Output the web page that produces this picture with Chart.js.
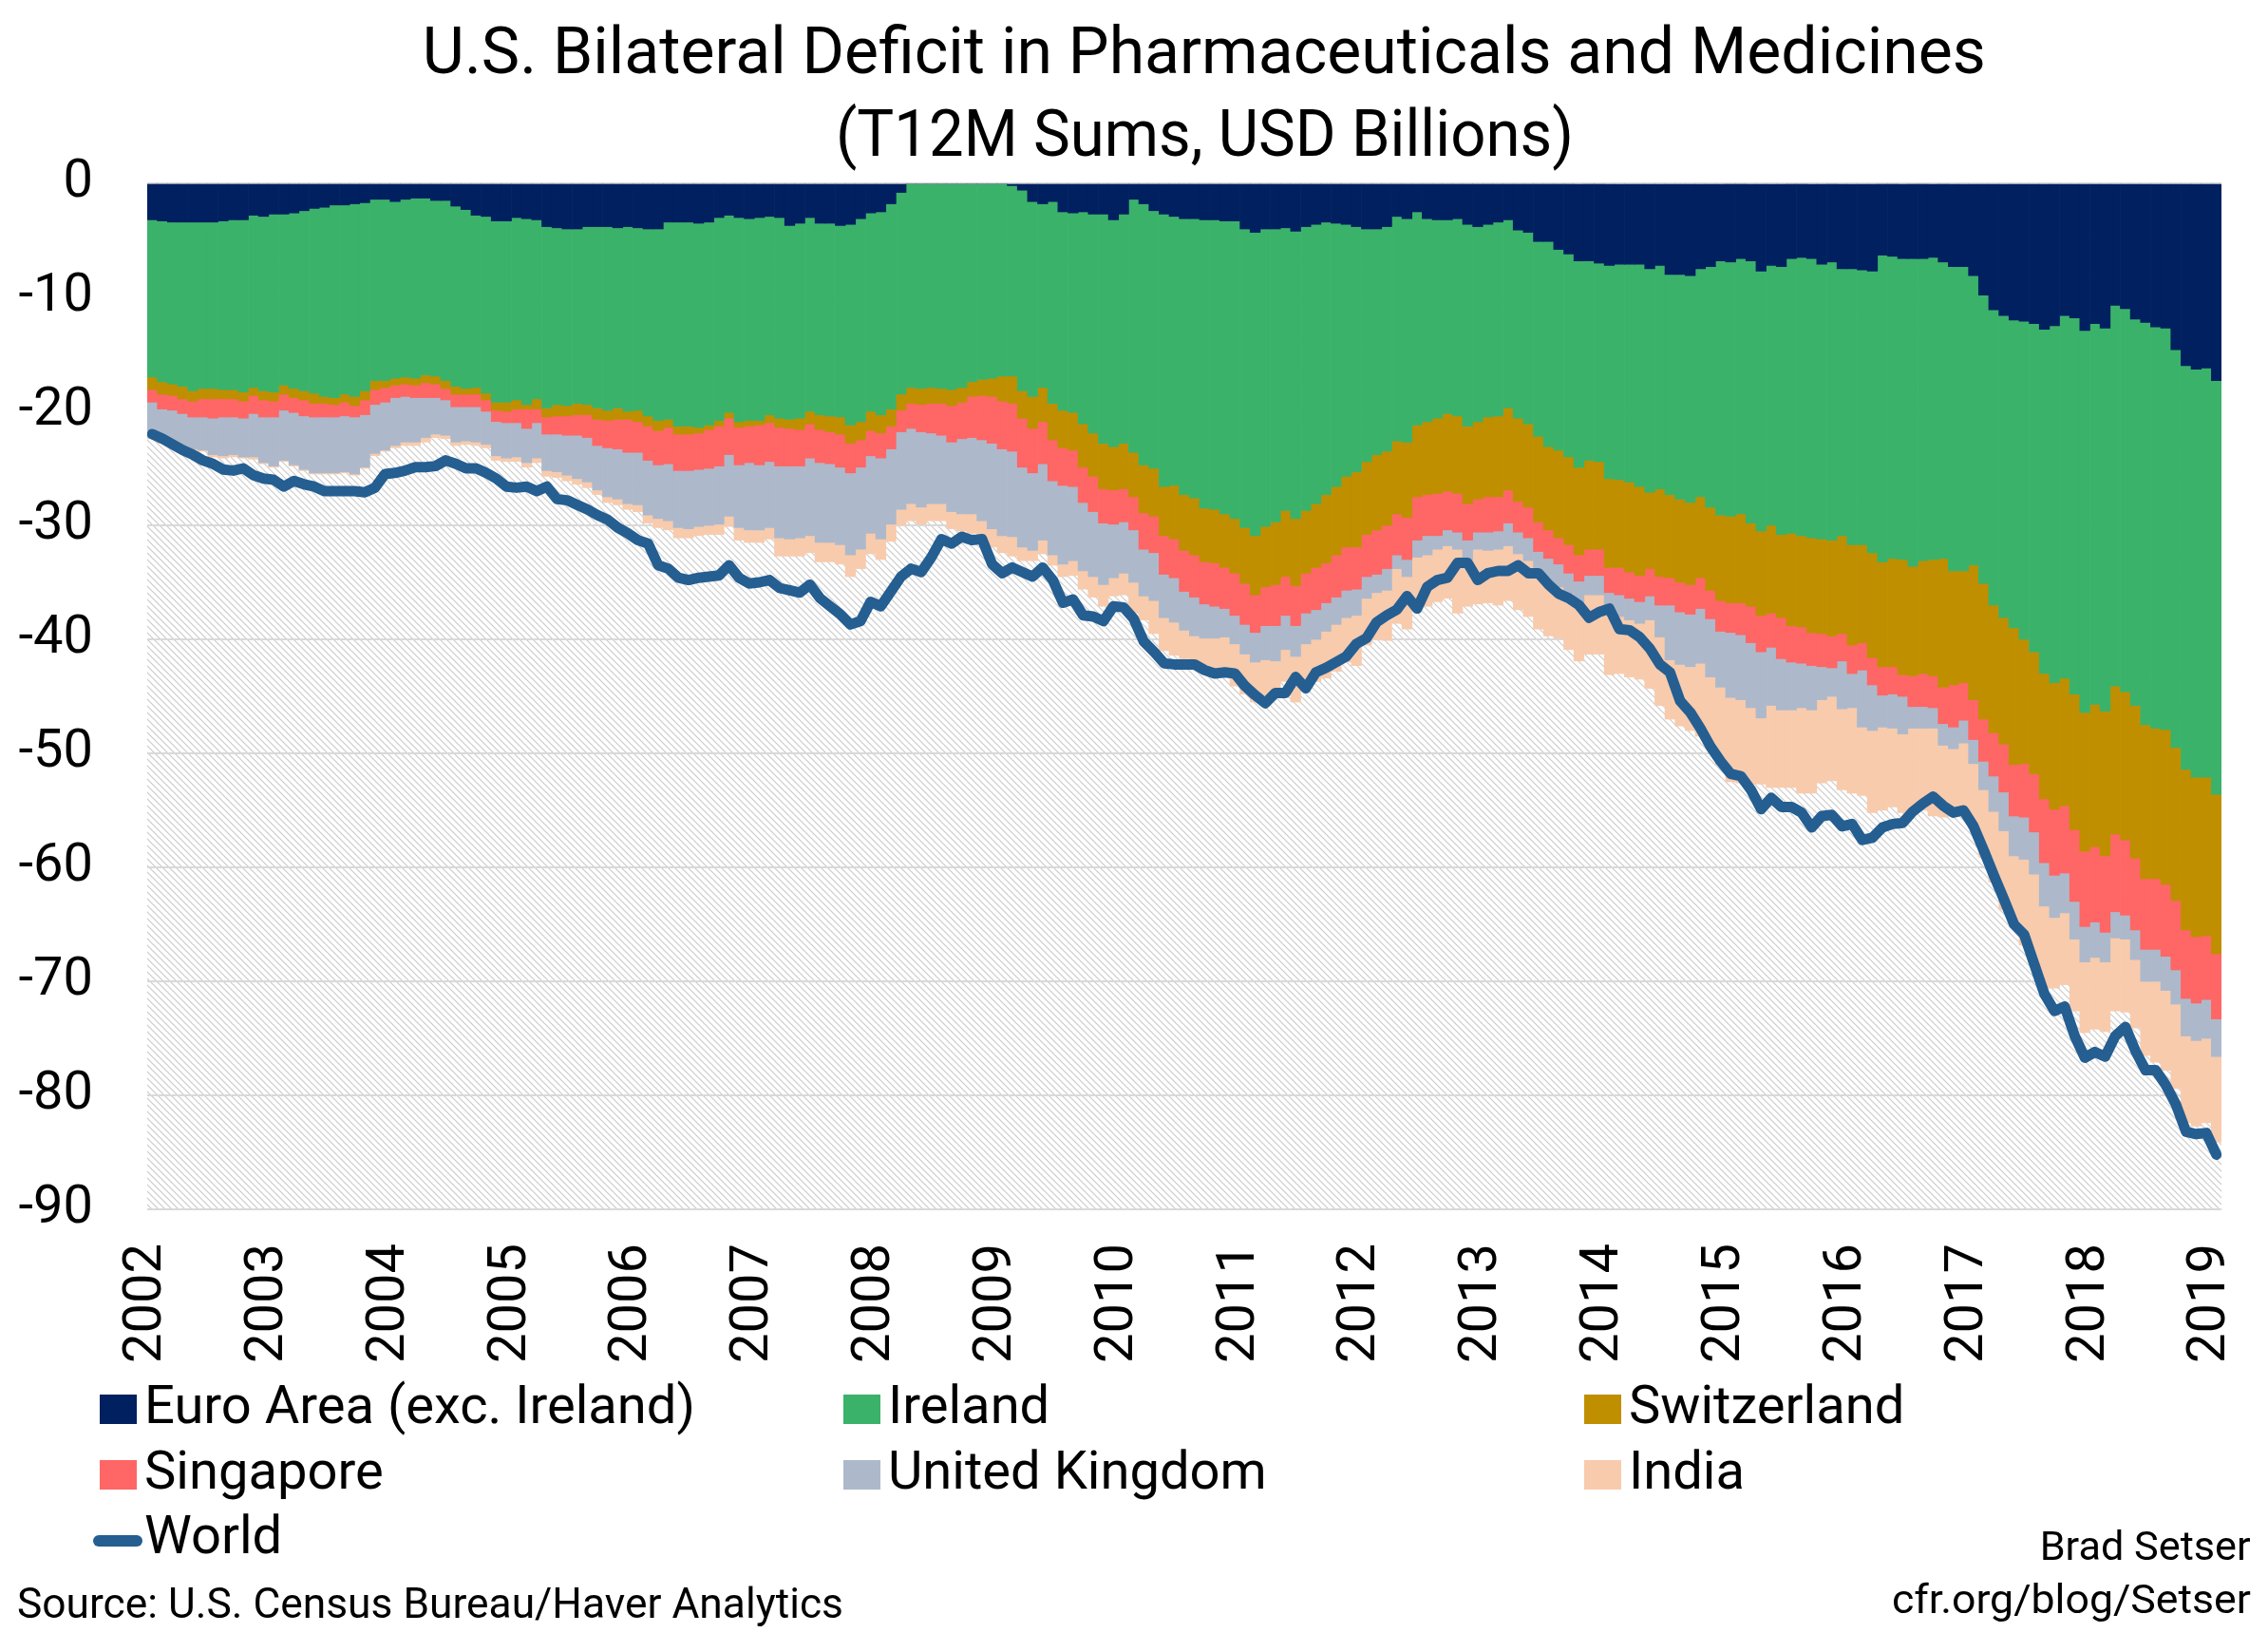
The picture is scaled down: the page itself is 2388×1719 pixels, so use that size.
<!DOCTYPE html>
<html>
<head>
<meta charset="utf-8">
<script src="https://cdn.jsdelivr.net/npm/chart.js@4.4.1/dist/chart.umd.min.js"></script>
<style>
html,body{margin:0;padding:0;background:#fff;}
#wrap{position:relative;width:2388px;height:1719px;overflow:hidden;font-family:Roboto,"Liberation Sans",sans-serif;color:#000;background:#fff;}
#chartBox{position:absolute;left:0;top:0;width:2388px;height:1719px;}
.t{position:absolute;white-space:nowrap;line-height:1;font-family:Roboto,"Liberation Sans",sans-serif;}
.box{position:absolute;width:39px;height:31px;}
.lmark{position:absolute;width:52px;height:12px;border-radius:6px;}
</style>
</head>
<body>
<div id="wrap">
  <div id="chartBox"><canvas id="c"></canvas></div>
  <div id="title1" class="t">U.S. Bilateral Deficit in Pharmaceuticals and Medicines</div>
  <div id="title2" class="t">(T12M Sums, USD Billions)</div>
  <div id="legend"></div>
  <div id="source" class="t">Source: U.S. Census Bureau/Haver Analytics</div>
  <div id="credit1" class="t">Brad Setser</div>
  <div id="credit2" class="t">cfr.org/blog/Setser</div>
</div>
<script>
// ---- Data: monthly trailing-12-month sums, USD billions, Jan 2002 .. Jan 2019 ----
const years = ['2002','2003','2004','2005','2006','2007','2008','2009','2010','2011','2012','2013','2014','2015','2016','2017','2018','2019'];
const yTicks = [0,-10,-20,-30,-40,-50,-60,-70,-80,-90];

const euroArea = [
-3.2,-3.3,-3.4,-3.4,-3.4,-3.4,-3.4,-3.3,-3.2,-3.2,
-2.8,-2.9,-2.7,-2.7,-2.6,-2.4,-2.2,-2.1,-1.9,-1.9,
-1.8,-1.7,-1.4,-1.4,-1.6,-1.4,-1.3,-1.3,-1.5,-1.5,
-2.0,-2.3,-2.8,-2.9,-3.3,-3.3,-3.0,-3.1,-3.2,-3.8,
-3.9,-4.0,-4.0,-3.8,-3.8,-3.8,-3.9,-3.8,-3.9,-4.0,
-4.0,-3.4,-3.4,-3.4,-3.5,-3.4,-3.0,-2.8,-3.0,-3.1,
-3.0,-2.9,-3.0,-3.7,-3.5,-3.0,-3.5,-3.5,-3.7,-3.6,
-3.1,-2.6,-2.5,-1.8,-0.8,0,0,0,0,0,
0,0,0,0,0,-0.2,-0.6,-1.6,-1.8,-1.6,
-2.5,-2.6,-2.5,-2.7,-2.7,-3.2,-2.7,-1.4,-1.8,-2.4,
-2.7,-2.9,-3.1,-3.1,-3.2,-3.2,-3.3,-3.3,-4.0,-4.3,
-4.0,-4.0,-3.9,-4.2,-3.8,-3.6,-3.4,-3.5,-3.6,-3.8,
-4.0,-4.0,-3.8,-2.9,-3.1,-2.5,-3.1,-3.2,-3.2,-3.1,
-3.6,-3.8,-3.6,-3.4,-3.2,-4.1,-4.3,-5.1,-5.1,-5.8,
-6.2,-6.8,-6.8,-7.0,-7.2,-7.1,-7.1,-7.1,-7.5,-7.2,
-8.0,-8.0,-8.1,-7.5,-7.3,-6.8,-6.9,-6.6,-6.8,-7.7,
-7.2,-7.3,-6.6,-6.5,-6.6,-7.1,-6.9,-7.5,-7.5,-7.6,
-7.7,-6.3,-6.4,-6.6,-6.6,-6.6,-6.5,-6.9,-7.3,-7.3,
-8.1,-9.8,-11.1,-11.6,-12.0,-12.1,-12.3,-12.8,-12.5,-11.6,
-11.8,-12.9,-12.3,-12.7,-10.7,-11.0,-11.9,-12.2,-12.6,-12.7,
-14.6,-16.0,-16.3,-16.2,-17.3];

const ireland = [
-13.8,-14.1,-14.2,-14.4,-14.8,-14.6,-14.6,-14.8,-14.9,-15.1,
-15.1,-15.3,-15.6,-15.0,-15.4,-15.8,-16.2,-16.6,-16.9,-16.6,
-16.9,-16.5,-15.9,-15.9,-15.5,-15.6,-15.8,-15.5,-15.4,-15.8,
-15.8,-15.7,-15.1,-15.5,-15.9,-15.9,-16.0,-16.3,-15.7,-15.9,
-15.5,-15.5,-15.3,-15.6,-15.9,-16.1,-15.8,-16.2,-16.0,-16.4,
-16.8,-17.3,-17.9,-17.9,-17.9,-17.8,-17.8,-17.3,-17.9,-17.7,
-17.8,-17.4,-17.6,-17.0,-17.1,-17.0,-16.8,-16.9,-16.8,-17.6,
-17.8,-17.4,-17.8,-18.0,-17.7,-17.9,-18.0,-17.9,-18.0,-18.1,
-17.9,-17.4,-17.2,-17.1,-16.9,-16.7,-17.6,-17.1,-16.1,-17.7,
-17.4,-17.5,-18.6,-19.2,-20.1,-19.9,-20.1,-22.2,-22.9,-22.6,
-23.9,-23.6,-24.2,-24.5,-25.3,-25.4,-25.7,-26.1,-26.2,-26.6,
-26.1,-25.7,-24.8,-25.2,-24.9,-24.5,-23.9,-23.1,-22.1,-21.5,
-20.4,-19.8,-19.7,-19.7,-19.6,-18.7,-17.8,-17.4,-17.0,-17.3,
-17.7,-17.1,-16.9,-17.0,-16.5,-16.5,-16.8,-17.1,-18.0,-17.6,
-17.8,-18.1,-17.5,-17.4,-18.7,-18.9,-19.1,-19.5,-19.6,-19.6,
-19.3,-19.7,-19.9,-20.0,-21.1,-22.3,-22.3,-22.4,-23.0,-22.8,
-22.8,-23.5,-24.1,-24.4,-24.5,-24.1,-24.4,-23.4,-24.2,-24.1,
-24.7,-26.9,-26.5,-26.4,-27.0,-26.5,-26.5,-26.0,-26.7,-26.7,
-25.4,-25.3,-25.9,-26.5,-27.0,-27.9,-28.8,-30.2,-31.3,-31.8,
-33.0,-33.5,-33.4,-33.6,-33.4,-33.6,-33.9,-35.3,-35.2,-35.2,
-34.9,-35.4,-35.8,-35.9,-36.3];

const switzerland = [
-1.1,-1.1,-1.0,-1.1,-0.9,-0.9,-0.9,-0.8,-0.8,-0.8,
-0.7,-0.8,-0.8,-0.8,-0.8,-0.8,-0.9,-0.6,-0.6,-0.7,
-0.8,-0.8,-0.8,-0.6,-0.6,-0.6,-0.6,-0.7,-0.7,-0.7,
-0.7,-0.5,-0.6,-0.6,-0.7,-0.8,-0.8,-0.4,-0.9,-0.8,
-1.0,-0.9,-1.0,-0.9,-1.0,-0.9,-1.0,-0.7,-1.0,-0.9,
-0.9,-0.7,-0.7,-0.7,-0.5,-0.4,-0.5,-0.5,-0.5,-0.5,
-0.4,-0.7,-0.8,-0.8,-1.0,-1.1,-1.3,-1.4,-1.5,-1.6,
-1.6,-1.7,-1.6,-1.5,-1.4,-1.4,-1.4,-1.4,-1.3,-1.4,
-1.3,-1.3,-1.4,-1.6,-2.2,-2.4,-2.4,-2.8,-3.0,-3.2,
-3.3,-3.3,-3.8,-3.8,-4.0,-3.8,-4.0,-3.9,-4.2,-4.2,
-4.3,-4.7,-4.9,-5.0,-4.7,-4.7,-4.7,-4.8,-4.9,-5.2,
-5.3,-5.5,-5.8,-5.9,-5.5,-5.6,-6.0,-6.0,-6.2,-6.6,
-6.4,-6.6,-6.5,-6.4,-6.6,-6.3,-6.4,-6.6,-6.8,-6.8,
-6.8,-6.8,-7.0,-7.1,-7.2,-7.3,-7.3,-7.5,-7.3,-7.7,
-7.7,-7.7,-7.8,-7.7,-7.8,-7.7,-7.9,-7.8,-6.7,-7.7,
-7.3,-7.3,-7.2,-7.1,-7.3,-7.5,-7.6,-7.8,-7.3,-7.4,
-7.7,-7.3,-8.1,-8.0,-8.3,-8.3,-8.4,-8.6,-8.8,-8.6,
-9.2,-9.2,-9.5,-10.1,-9.6,-9.9,-10.2,-11.3,-10.0,-9.8,
-11.8,-11.9,-11.2,-11.1,-12.0,-10.9,-10.7,-11.0,-11.1,-11.2,
-11.9,-12.2,-12.5,-12.7,-13.0,-13.0,-13.4,-13.5,-13.2,-13.6,
-13.4,-14.1,-14.0,-13.9,-14.0];

const singapore = [
-1.1,-1.3,-1.3,-1.3,-1.4,-1.6,-1.7,-1.6,-1.6,-1.5,
-1.6,-1.5,-1.4,-1.4,-1.3,-1.4,-1.2,-1.2,-1.1,-1.2,
-1.0,-1.3,-1.3,-1.3,-1.1,-1.1,-1.1,-1.3,-1.2,-1.0,
-1.1,-1.1,-1.1,-1.0,-1.0,-1.0,-1.2,-1.7,-1.2,-1.5,
-1.6,-1.7,-1.8,-2.0,-2.3,-2.4,-2.6,-2.9,-2.7,-3.0,
-3.0,-3.2,-3.2,-3.2,-3.2,-3.4,-3.5,-3.2,-3.3,-3.2,
-3.5,-3.4,-3.4,-3.3,-3.2,-3.0,-2.9,-2.8,-2.9,-2.6,
-2.4,-2.2,-2.2,-2.0,-1.9,-2.2,-2.4,-2.6,-2.8,-3.2,
-3.2,-3.6,-3.9,-4.1,-4.2,-4.2,-4.3,-3.9,-3.7,-3.6,
-3.3,-3.2,-3.1,-3.1,-3.0,-3.0,-2.9,-2.9,-3.2,-3.2,
-3.4,-3.4,-3.6,-3.7,-3.7,-3.8,-3.6,-3.7,-3.6,-3.3,
-3.4,-3.6,-3.4,-3.5,-3.5,-3.7,-3.5,-3.7,-3.8,-3.7,
-3.7,-3.9,-3.8,-3.6,-3.7,-3.8,-3.6,-3.7,-3.4,-3.4,
-3.2,-2.9,-3.1,-3.0,-2.9,-2.7,-2.7,-2.6,-2.5,-2.3,
-2.5,-2.3,-2.3,-2.3,-2.2,-2.4,-2.3,-2.3,-2.4,-2.5,
-2.4,-2.6,-2.6,-2.7,-2.5,-2.7,-2.6,-2.8,-3.2,-3.2,
-3.0,-3.6,-3.2,-3.2,-2.9,-2.9,-2.8,-2.4,-2.5,-2.4,
-2.4,-2.5,-2.4,-1.9,-2.7,-2.9,-2.8,-3.2,-3.7,-3.3,
-3.5,-3.7,-3.8,-4.2,-4.5,-4.7,-5.1,-5.6,-5.8,-5.9,
-6.3,-6.6,-6.6,-6.7,-6.8,-6.6,-6.3,-6.2,-6.2,-6.3,
-6.1,-6.0,-5.8,-5.6,-5.7];

const unitedKingdom = [
-3.1,-2.9,-3.1,-3.1,-2.8,-2.9,-3.2,-3.4,-3.3,-3.4,
-3.8,-4.0,-4.3,-4.4,-4.6,-4.7,-4.9,-4.9,-4.9,-4.9,
-5.0,-4.6,-4.3,-4.2,-4.2,-4.0,-3.9,-3.5,-3.2,-3.1,
-3.1,-3.0,-3.1,-2.9,-3.0,-3.1,-3.0,-3.0,-3.1,-3.2,
-3.3,-3.5,-3.8,-3.9,-3.9,-4.3,-4.4,-4.5,-4.6,-4.8,
-4.7,-5.0,-5.0,-5.1,-5.0,-5.0,-5.1,-5.4,-5.5,-5.9,
-5.7,-5.8,-6.3,-6.4,-6.3,-6.8,-7.0,-6.9,-6.8,-7.2,
-7.2,-6.8,-7.1,-6.6,-6.8,-6.6,-6.6,-6.2,-6.0,-6.1,
-6.6,-6.7,-7.1,-7.5,-7.6,-7.5,-7.0,-6.8,-6.7,-6.5,
-6.9,-6.5,-6.0,-5.7,-5.4,-4.7,-4.5,-4.6,-4.1,-4.2,
-3.8,-3.9,-3.4,-3.4,-3.0,-2.8,-2.5,-2.5,-2.6,-2.6,
-3.0,-3.1,-3.0,-2.7,-2.7,-2.6,-2.5,-2.4,-2.4,-2.3,
-1.9,-1.6,-1.9,-1.2,-1.5,-1.5,-1.7,-1.2,-1.4,-1.5,
-1.7,-1.5,-1.6,-1.6,-2.0,-1.9,-2.0,-1.9,-2.0,-2.0,
-1.8,-1.9,-1.7,-1.7,-2.0,-1.9,-1.9,-1.9,-2.1,-2.8,
-4.8,-4.6,-4.6,-4.8,-5.1,-4.9,-5.7,-5.7,-5.7,-5.8,
-5.1,-4.5,-4.2,-3.9,-3.9,-2.9,-2.5,-4.2,-3.0,-5.0,
-4.0,-2.8,-3.0,-3.3,-1.9,-1.9,-1.8,-1.9,-1.9,-2.0,
-2.1,-2.5,-3.1,-3.4,-3.5,-3.7,-3.7,-3.8,-3.7,-3.5,
-3.3,-3.1,-3.1,-2.6,-2.3,-2.1,-2.6,-2.8,-2.8,-3.0,
-3.0,-3.3,-3.3,-3.4,-3.3];

const india = [
-0.1,-0.1,-0.1,-0.1,-0.2,-0.1,-0.2,-0.2,-0.2,-0.1,
-0.2,-0.1,-0.1,-0.1,-0.1,-0.1,-0.1,-0.1,-0.1,-0.1,
-0.1,-0.1,-0.2,-0.1,-0.2,-0.3,-0.3,-0.4,-0.3,-0.3,
-0.3,-0.3,-0.3,-0.3,-0.4,-0.3,-0.4,-0.4,-0.4,-0.5,
-0.5,-0.5,-0.5,-0.5,-0.4,-0.5,-0.5,-0.5,-0.6,-0.7,
-0.8,-0.8,-0.9,-0.8,-0.8,-0.8,-0.9,-0.9,-1.1,-1.1,
-1.1,-1.0,-1.6,-1.5,-1.6,-1.5,-1.7,-1.7,-1.7,-1.9,
-1.7,-1.8,-1.8,-1.5,-1.4,-1.5,-1.5,-1.5,-1.5,-1.5,
-1.5,-1.7,-1.5,-1.6,-1.5,-1.7,-1.2,-0.9,-1.2,-0.9,
-1.1,-1.3,-1.6,-1.8,-1.9,-1.6,-1.9,-2.7,-2.1,-2.9,
-2.9,-2.9,-2.5,-2.7,-3.0,-3.2,-3.5,-3.7,-3.5,-3.5,
-3.1,-2.8,-2.8,-4.0,-3.9,-3.7,-4.1,-4.1,-3.9,-4.4,
-4.1,-4.1,-4.4,-4.8,-4.6,-4.4,-4.5,-4.6,-4.6,-5.6,
-4.1,-4.8,-4.6,-4.9,-4.8,-4.9,-4.9,-4.9,-4.8,-4.5,
-4.9,-5.1,-5.2,-5.2,-5.2,-5.0,-5.0,-4.9,-6.0,-6.0,
-5.2,-5.4,-5.6,-6.4,-6.0,-6.8,-7.4,-7.3,-6.7,-5.8,
-7.2,-6.8,-6.8,-7.5,-7.3,-7.3,-7.4,-7.1,-7.5,-6.0,
-7.2,-7.3,-6.9,-6.9,-7.2,-7.2,-7.7,-6.3,-5.9,-5.7,
-5.7,-5.9,-6.2,-6.9,-6.2,-7.5,-8.0,-7.2,-6.2,-6.3,
-6.3,-6.2,-6.3,-6.1,-6.4,-6.4,-6.0,-6.5,-7.1,-7.0,
-7.4,-7.6,-7.5,-7.4,-7.5];

const world = [
-22.0,-22.4,-22.9,-23.4,-23.8,-24.3,-24.6,-25.1,-25.2,-25.0,
-25.6,-25.9,-26.0,-26.6,-26.1,-26.4,-26.6,-27.0,-27.0,-27.0,
-27.0,-27.1,-26.7,-25.5,-25.4,-25.2,-24.9,-24.9,-24.8,-24.3,
-24.6,-25.0,-25.0,-25.4,-25.9,-26.6,-26.7,-26.6,-27.0,-26.6,
-27.7,-27.8,-28.2,-28.6,-29.1,-29.5,-30.2,-30.7,-31.3,-31.6,
-33.5,-33.8,-34.6,-34.8,-34.6,-34.5,-34.4,-33.5,-34.6,-35.1,
-35.0,-34.8,-35.5,-35.7,-35.9,-35.2,-36.4,-37.1,-37.8,-38.7,
-38.4,-36.7,-37.1,-35.8,-34.5,-33.8,-34.1,-32.8,-31.2,-31.6,
-31.0,-31.3,-31.2,-33.4,-34.2,-33.7,-34.1,-34.5,-33.7,-34.8,
-36.8,-36.5,-37.9,-38.0,-38.4,-37.1,-37.2,-38.2,-40.2,-41.1,
-42.1,-42.2,-42.2,-42.2,-42.7,-43.0,-42.9,-43.0,-44.1,-44.9,
-45.6,-44.7,-44.7,-43.3,-44.3,-42.9,-42.5,-42.0,-41.5,-40.4,
-39.9,-38.5,-37.9,-37.4,-36.2,-37.3,-35.4,-34.8,-34.6,-33.3,
-33.3,-34.8,-34.2,-34.0,-34.0,-33.5,-34.2,-34.2,-35.2,-36.0,
-36.4,-37.0,-38.1,-37.6,-37.3,-39.1,-39.2,-39.8,-40.8,-42.2,
-42.9,-45.4,-46.4,-47.8,-49.4,-50.7,-51.8,-52.0,-53.2,-54.9,
-53.9,-54.7,-54.7,-55.2,-56.5,-55.5,-55.4,-56.4,-56.2,-57.6,
-57.4,-56.5,-56.2,-56.1,-55.1,-54.4,-53.8,-54.6,-55.2,-55.0,
-56.4,-58.5,-60.7,-62.8,-65.0,-65.9,-68.5,-71.1,-72.6,-72.2,
-74.8,-76.7,-76.2,-76.6,-74.8,-74.0,-76.1,-77.8,-77.8,-79.1,
-80.8,-83.2,-83.4,-83.3,-85.2];

// ---- Series definitions (labels/colours) ----
const seriesDefs = [
  {label:'Euro Area (exc. Ireland)', values: euroArea, color:'#002060'},
  {label:'Ireland', values: ireland, color:'#3bb26a'},
  {label:'Switzerland', values: switzerland, color:'#bf8f00'},
  {label:'Singapore', values: singapore, color:'#ff6666'},
  {label:'United Kingdom', values: unitedKingdom, color:'#adb9ca'},
  {label:'India', values: india, color:'#f8cbad'}
];
const worldDef = {label:'World', values: world, color:'#255e91'};

const toXY = arr => arr.map((v, i) => ({x: i + 0.5, y: v}));

// hatch pattern for plot background
function makeHatch() {
  const s = 7;
  const p = document.createElement('canvas');
  p.width = s; p.height = s;
  const g = p.getContext('2d');
  g.fillStyle = '#ffffff'; g.fillRect(0, 0, s, s);
  g.strokeStyle = '#cbcbcb'; g.lineWidth = 1.2;
  g.beginPath();
  g.moveTo(-1, -1); g.lineTo(s + 1, s + 1);
  g.moveTo(-1, s - 1); g.lineTo(1, s + 1);
  g.moveTo(s - 1, -1); g.lineTo(s + 1, 1);
  g.stroke();
  return p;
}

const hatchPlugin = {
  id: 'hatchBg',
  beforeDraw(chart) {
    const {ctx, chartArea: a} = chart;
    ctx.save();
    ctx.fillStyle = ctx.createPattern(makeHatch(), 'repeat');
    ctx.fillRect(a.left, a.top, a.right - a.left, a.bottom - a.top);
    ctx.restore();
  }
};

const datasets = [
  {
    type: 'line', label: worldDef.label, data: toXY(worldDef.values),
    borderColor: worldDef.color, backgroundColor: worldDef.color, borderWidth: 11,
    pointRadius: 0, pointHoverRadius: 0, fill: false, tension: 0,
    borderJoinStyle: 'round', borderCapStyle: 'round', stack: 'world', order: 0
  }
].concat(seriesDefs.map(d => ({
  type: 'bar', label: d.label, data: toXY(d.values), backgroundColor: d.color,
  borderWidth: 0, barPercentage: 1, categoryPercentage: 1, stack: 'countries', order: 1
})));

const tickFont = {family: 'Roboto', size: 56};

Chart.defaults.font.family = 'Roboto';
const chart = new Chart(document.getElementById('c'), {
  type: 'bar',
  data: {datasets},
  plugins: [hatchPlugin],
  options: {
    responsive: true, maintainAspectRatio: false, animation: false,
    layout: {padding: {left: 0, right: 49, top: 193, bottom: 266}},
    plugins: {legend: {display: false}, tooltip: {enabled: false}, title: {display: false}},
    scales: {
      x: {
        type: 'linear', min: 0, max: world.length, offset: false, stacked: true,
        grid: {display: false, drawTicks: false}, border: {display: false},
        afterBuildTicks: s => { s.ticks = years.map((y, i) => ({value: i * 12})); },
        afterFit: s => { s.height = 180; s.paddingLeft = 0; s.paddingRight = 0; },
        ticks: {
          autoSkip: false, minRotation: 90, maxRotation: 90, padding: 36,
          color: '#000', font: tickFont,
          callback: (v, i) => years[i]
        }
      },
      y: {
        type: 'linear', min: yTicks[yTicks.length - 1], max: yTicks[0], stacked: true,
        grid: {color: '#d9d9d9', lineWidth: 2, drawTicks: false}, border: {display: false},
        afterFit: s => { s.width = 155; s.paddingTop = 0; s.paddingBottom = 0; },
        ticks: {stepSize: 10, padding: 57, color: '#000', font: tickFont,
          callback: v => String(v)}
      }
    }
  }
});

// ---- HTML text (title, legend, footer) ----
function placeText(el, o) {
  el.style.fontSize = o.size + 'px';
  el.style.top = (o.baseline - 0.842 * o.size) + 'px';
  el.style.transform = 'none';
  const w = el.getBoundingClientRect().width;
  const f = o.width ? o.width / w : (o.scale || 1);
  let left;
  if (o.align === 'center') { left = o.x - w / 2; el.style.transformOrigin = '50% 0'; }
  else if (o.align === 'right') { left = o.x - w; el.style.transformOrigin = '100% 0'; }
  else { left = o.x; el.style.transformOrigin = '0 0'; }
  el.style.left = left + 'px';
  el.style.transform = 'scaleX(' + f + ')';
  return f;
}

function buildLegend() {
  const lg = document.getElementById('legend');
  lg.innerHTML = '';
  const items = seriesDefs.concat([Object.assign({line: true}, worldDef)]);
  const colX = [105, 888, 1668];
  const rowBase = [1498, 1567, 1635];
  let f = null;
  items.forEach((it, k) => {
    const c = k % 3, r = Math.floor(k / 3);
    const x = colX[c], b = rowBase[r];
    const m = document.createElement('div');
    if (it.line) {
      m.className = 'lmark';
      m.style.left = (x - 7) + 'px';
      m.style.top = (b - 19) + 'px';
    } else {
      m.className = 'box';
      m.style.left = x + 'px';
      m.style.top = (b - 30) + 'px';
    }
    m.style.background = it.color;
    lg.appendChild(m);
    const t = document.createElement('div');
    t.className = 't';
    t.textContent = it.label;
    lg.appendChild(t);
    if (f === null) f = placeText(t, {x: x + 47, baseline: b, size: 56, width: 580});
    else placeText(t, {x: x + 47, baseline: b, size: 56, scale: f});
  });
}

function layoutText() {
  placeText(document.getElementById('title1'), {x: 1268, baseline: 77, size: 69, width: 1646, align: 'center'});
  placeText(document.getElementById('title2'), {x: 1268, baseline: 164, size: 69, width: 777, align: 'center'});
  placeText(document.getElementById('source'), {x: 18, baseline: 1703, size: 44, width: 870});
  placeText(document.getElementById('credit1'), {x: 2370, baseline: 1642, size: 42, width: 222, align: 'right'});
  placeText(document.getElementById('credit2'), {x: 2370, baseline: 1698, size: 42, width: 378, align: 'right'});
  buildLegend();
}
layoutText();
if (document.fonts && document.fonts.ready) {
  document.fonts.ready.then(() => { layoutText(); chart.update(); });
}
</script>
</body>
</html>
